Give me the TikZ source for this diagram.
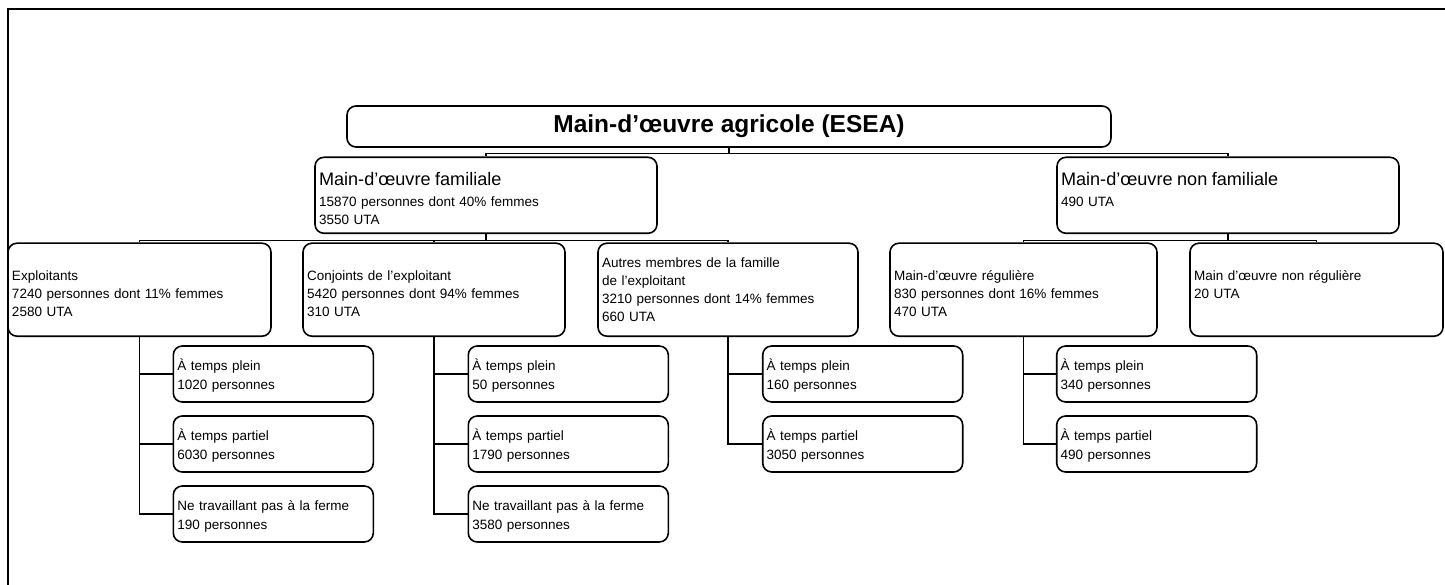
\documentclass[tikz,border=0pt]{standalone}
\usepackage{fontspec}
\setmainfont{Liberation Sans}
\usetikzlibrary{positioning}

\begin{document}
\begin{tikzpicture}[x=1pt,y=-1pt,
    box/.style={draw,rectangle,rounded corners=9pt,line width=1.6pt,inner xsep=4pt,inner ysep=0pt,align=left,font=\fontsize{13.5}{18.3}\selectfont},
    topstrut/.style={execute at begin node={\rule{0pt}{#1}}},
    topbox/.style={box,minimum width=764pt,minimum height=41pt,align=center,font=\bfseries\fontsize{24.5}{28}\selectfont},
    groupbox/.style={box,text width=334pt,minimum height=76pt,topstrut=20pt},
    catbox/.style={box,minimum height=93pt},
    leafbox/.style={box,text width=192pt,minimum height=56pt,topstrut=15pt},
    link/.style={line width=1.2pt}]
    \useasboundingbox (0,0) rectangle (1445,585);
    % frame
    \draw[line width=2pt] (8,585) -- (8,9) -- (1445,9);

    \node[topbox] (main) at (729,126.5) {Main-d’œuvre agricole (ESEA)};

    \node[groupbox] (fam) at (486,195.3) {{\fontsize{18.1}{22}\selectfont Main-d’œuvre familiale}\\[2pt]15870 personnes dont 40\% femmes\\3550 UTA};
    \node[groupbox] (nonfam) at (1228,195.3) {{\fontsize{18.1}{22}\selectfont Main-d’œuvre non familiale}\\[2pt]490 UTA\\~};

    \node[catbox,topstrut=18pt,text width=255pt] (expl) at (139.5,289.7) {Exploitants\\7240 personnes dont 11\% femmes\\2580 UTA};
    \node[catbox,topstrut=18pt,text width=254pt] (conj) at (434,289.7) {Conjoints de l’exploitant\\5420 personnes dont 94\% femmes\\310 UTA};
    \node[catbox,text width=252pt] (autres) at (728,289.7) {Autres membres de la famille\\de l’exploitant\\3210 personnes dont 14\% femmes\\660 UTA};
    \node[catbox,topstrut=18pt,text width=259pt] (reg) at (1023.5,289.7) {Main-d’œuvre régulière\\830 personnes dont 16\% femmes\\470 UTA};
    \node[catbox,topstrut=18pt,text width=245pt] (nonreg) at (1316.5,289.7) {Main d’œuvre non régulière\\20 UTA\\~};

    \node[leafbox] (expl1) at (273.3,374) {À temps plein\\1020 personnes};
    \node[leafbox] (expl2) at (273.3,444) {À temps partiel\\6030 personnes};
    \node[leafbox] (expl3) at (273.3,514) {Ne travaillant pas à la ferme\\190 personnes};

    \node[leafbox] (conj1) at (568.3,374) {À temps plein\\50 personnes};
    \node[leafbox] (conj2) at (568.3,444) {À temps partiel\\1790 personnes};
    \node[leafbox] (conj3) at (568.3,514) {Ne travaillant pas à la ferme\\3580 personnes};

    \node[leafbox] (autres1) at (862.7,374) {À temps plein\\160 personnes};
    \node[leafbox] (autres2) at (862.7,444) {À temps partiel\\3050 personnes};

    \node[leafbox] (reg1) at (1156.7,374) {À temps plein\\340 personnes};
    \node[leafbox] (reg2) at (1156.7,444) {À temps partiel\\490 personnes};

    \foreach \c in {fam,nonfam}
        \draw[link] (main.south) -- ++(0,6) -| (\c.north);
    \foreach \c in {expl,conj,autres}
        \draw[link] (fam.south) -- ++(0,6.5) -| (\c.north);
    \foreach \c in {reg,nonreg}
        \draw[link] (nonfam.south) -- ++(0,6.5) -| (\c.north);

    \foreach \i in {1,2,3} {
        \draw[link] (expl.south) |- (expl\i.west);
        \draw[link] (conj.south) |- (conj\i.west);
    }
    \foreach \i in {1,2} {
        \draw[link] (autres.south) |- (autres\i.west);
        \draw[link] (reg.south) |- (reg\i.west);
    }
\end{tikzpicture}
\end{document}
